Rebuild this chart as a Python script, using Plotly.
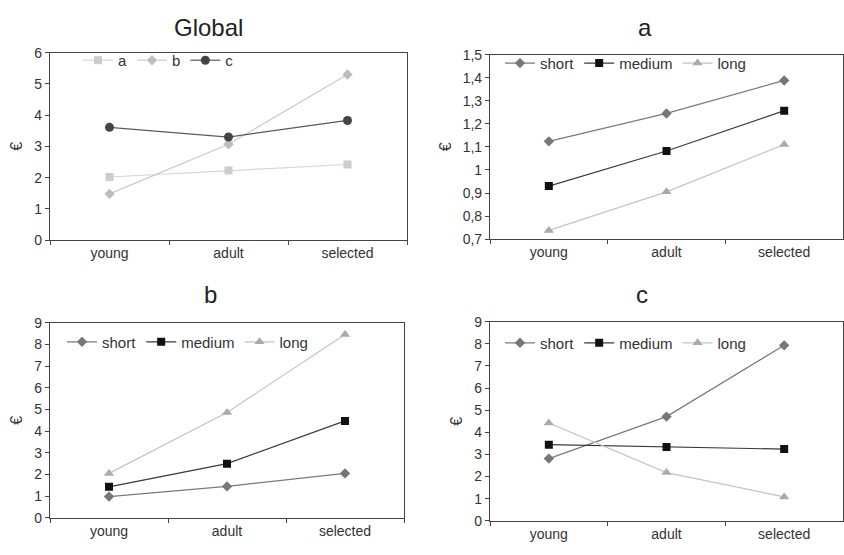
import plotly.graph_objects as go

W, H = 844, 555

ages = ["young", "adult", "selected"]

# Global panel: one series per group
global_a = [2.02, 2.23, 2.42]
global_b = [1.48, 3.07, 5.30]
global_c = [3.61, 3.30, 3.83]

# Panel a
a_short = [1.124, 1.245, 1.388]
a_medium = [0.930, 1.082, 1.257]
a_long = [0.738, 0.905, 1.110]

# Panel b
b_short = [0.98, 1.45, 2.05]
b_medium = [1.43, 2.50, 4.47]
b_long = [2.05, 4.86, 8.45]

# Panel c
c_short = [2.81, 4.71, 7.93]
c_medium = [3.44, 3.34, 3.24]
c_long = [4.42, 2.18, 1.08]

FONT = "Liberation Sans, Arial, sans-serif"

# panel boxes in pixels: (x0, x1, y0_top, y1_bottom)
boxes = {
    1: (50, 407, 46, 239),
    2: (490, 843, 48, 238),
    3: (50, 404, 324, 525),
    4: (490, 843, 323, 528),
}

fig = go.Figure()

def add(x_idx, name, y, line_color, marker_color, symbol, size, legend):
    sfx = "" if x_idx == 1 else str(x_idx)
    fig.add_trace(go.Scatter(
        x=ages, y=y, name=name, mode="lines+markers",
        line=dict(color=line_color, width=1.2),
        marker=dict(color=marker_color, symbol=symbol, size=size),
        xaxis="x" + sfx, yaxis="y" + sfx, legend=legend,
    ))

add(1, "a", global_a, "#d6d6d6", "#cccccc", "square", 8, "legend")
add(1, "b", global_b, "#cacaca", "#bdbdbd", "diamond", 8, "legend")
add(1, "c", global_c, "#5a5a5a", "#444444", "circle", 9, "legend")

for idx, (s, m, l), leg in [
    (2, (a_short, a_medium, a_long), "legend2"),
    (3, (b_short, b_medium, b_long), "legend3"),
    (4, (c_short, c_medium, c_long), "legend4"),
]:
    add(idx, "short", s, "#7a7a7a", "#777777", "diamond", 8, leg)
    add(idx, "medium", m, "#3a3a3a", "#111111", "square", 8, leg)
    add(idx, "long", l, "#c4c4c4", "#aaaaaa", "triangle-up", 9, leg)

yranges = {1: ([0, 6], 1), 2: ([0.7, 1.5], 0.1), 3: ([0, 9], 1), 4: ([0, 9], 1)}

layout = dict(
    width=W, height=H,
    margin=dict(l=0, r=0, t=0, b=0),
    paper_bgcolor="white", plot_bgcolor="white",
    font=dict(family=FONT, color="#333333", size=14),
    separators=",.",
    showlegend=True,
)

for idx, (x0, x1, yt, yb) in boxes.items():
    sfx = "" if idx == 1 else str(idx)
    rng, dt = yranges[idx]
    layout["xaxis" + sfx] = dict(
        domain=[x0 / W, x1 / W], anchor="y" + sfx,
        type="category", categoryorder="array", categoryarray=ages,
        range=[-0.5, 2.5], tickson="boundaries", ticks="outside",
        ticklen=4, tickcolor="#444", showline=True, linecolor="#444",
        linewidth=1.2, mirror=True, showgrid=False, zeroline=False,
        tickfont=dict(size=14, color="#333"),
    )
    layout["yaxis" + sfx] = dict(
        domain=[1 - yb / H, 1 - yt / H], anchor="x" + sfx,
        range=rng, dtick=dt, tick0=rng[0], ticks="outside", ticklen=4,
        tickcolor="#444", showline=True, linecolor="#444", linewidth=1.2,
        mirror=True, showgrid=False, zeroline=False,
        tickfont=dict(size=14, color="#333"),
        title=dict(text="€", font=dict(size=16, color="#333"), standoff=7),
    )

def legend_at(px, py):
    return dict(
        x=px / W, y=1 - py / H, xanchor="left", yanchor="middle",
        orientation="h", bgcolor="rgba(0,0,0,0)", borderwidth=0,
        font=dict(size=15, color="#333"), tracegroupgap=0,
    )

layout["legend"] = legend_at(78, 54)
layout["legend2"] = legend_at(500, 57)
layout["legend3"] = legend_at(62, 344)
layout["legend4"] = legend_at(500, 345)

fig.update_layout(**layout)

titles = [("Global", 208, 20), ("a", 645, 20), ("b", 210, 295), ("c", 642, 295)]
for text, px, py in titles:
    fig.add_annotation(
        text=text, x=px / W, y=1 - py / H, xref="paper", yref="paper",
        showarrow=False, xanchor="center", yanchor="middle",
        font=dict(family=FONT, size=24, color="#222"),
    )

fig.write_html("out.html")
